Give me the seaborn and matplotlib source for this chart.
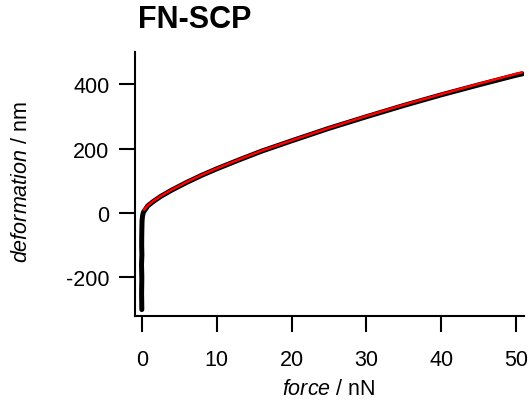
import matplotlib
matplotlib.use("Agg")
import matplotlib.pyplot as plt
import seaborn as sns

# measured curve (black) - force in nN, deformation in nm
force_data = [0.01, -0.02, 0.01, -0.03, 0.02, -0.01, 0.0, 0.02, 0.04, 0.1, 0.22, 0.45,
              0.8, 1.5, 2.5, 4, 6, 8, 10, 13, 16, 20, 25, 30, 35, 40, 45, 50, 50.8]
deform_data = [-300, -250, -200, -160, -130, -100, -70, -45, -25, -10, 2, 10,
               22, 35, 51, 71, 95, 117, 137, 165, 192, 224, 263, 299, 334, 367, 398, 428, 432]

# fit (red)
force_fit = [0.3, 0.8, 1.5, 2.5, 4, 6, 8, 10, 13, 16, 20, 25, 30, 35, 40, 45, 50, 50.8]
deform_fit = [10, 23, 36, 52, 72, 96, 118, 138, 166, 193, 225, 264, 301, 336, 369, 401, 432, 437]

title = "FN-SCP"
xticks = [0, 10, 20, 30, 40, 50]
yticks = [-200, 0, 200, 400]

sns.set_theme(style="ticks")
plt.rcParams["font.family"] = ["Liberation Sans", "DejaVu Sans"]
plt.rcParams["text.color"] = "black"
plt.rcParams["mathtext.fontset"] = "custom"
plt.rcParams["mathtext.rm"] = "Liberation Sans"
plt.rcParams["mathtext.it"] = "Liberation Sans:italic"

fig = plt.figure(figsize=(5.29, 4.06), dpi=100)
ax = fig.add_axes([135 / 529, 1 - 317 / 406, 388.7 / 529, 264 / 406])

sns.lineplot(x=force_data, y=deform_data, sort=False, estimator=None, color="black",
             linewidth=3.6, ax=ax)
sns.lineplot(x=force_fit, y=deform_fit, sort=False, estimator=None, color="#ff0000",
             linewidth=1.8, ax=ax)

ax.set_xlim(-0.9, 51)
ax.set_ylim(-320, 500)
ax.set_xticks(xticks)
ax.set_yticks(yticks)
ax.set_yticklabels([str(t) for t in yticks])
sns.despine(ax=ax)
for s in ["left", "bottom"]:
    ax.spines[s].set_linewidth(1.5)
    ax.spines[s].set_color("black")
ax.tick_params(axis="both", length=11.5, width=1.5, color="black", labelsize=15.5,
               labelcolor="black")
ax.tick_params(axis="x", pad=12)
ax.tick_params(axis="y", pad=7)

fig.text(138 / 529, 1 - 20.5 / 406, title, fontsize=22, fontweight="bold",
         color="black", ha="left", va="center")
fig.text(329 / 529, 1 - 390 / 406, r"$\mathit{force}$ / nN", fontsize=15.5,
         color="black", ha="center", va="center")
fig.text(22 / 529, 1 - 182 / 406, r"$\mathit{deformation}$ / nm", fontsize=15.5,
         color="black", ha="center", va="center", rotation=90)

fig.savefig("out.png", dpi=100)
